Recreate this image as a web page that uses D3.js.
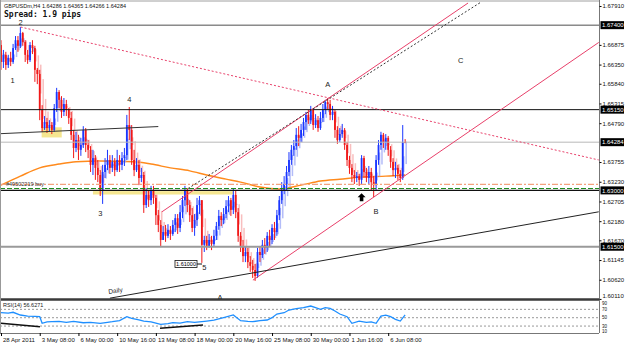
<!DOCTYPE html>
<html>
<head>
<meta charset="utf-8">
<script src="https://cdn.jsdelivr.net/npm/d3@7"></script>
<style>
body { margin: 0; background: #fff; }
svg { display: block; }
</style>
</head>
<body>
<div id="chart"></div>
<script>
// GBPUSDm H4 bars (open = previous close)
var symbol = "GBPUSDm,H4";
var firstOpen = 1.6687;
var closes = [
	1.6642,1.6661,1.6634,1.6653,1.6642,1.6679,1.6700,1.6685,1.6719,1.6695,
	1.6661,1.6647,1.6687,1.6679,1.6621,1.6610,1.6514,1.6466,1.6482,1.6466,
	1.6474,1.6461,1.6519,1.6562,1.6541,1.6509,1.6530,1.6514,1.6493,1.6448,
	1.6413,1.6434,1.6408,1.6421,1.6461,1.6421,1.6408,1.6368,1.6386,1.6360,
	1.6341,1.6301,1.6349,1.6368,1.6381,1.6360,1.6376,1.6354,1.6381,1.6368,
	1.6386,1.6394,1.6474,1.6461,1.6381,1.6354,1.6368,1.6333,1.6341,1.6261,
	1.6288,1.6274,1.6301,1.6280,1.6234,1.6208,1.6168,1.6189,1.6179,1.6195,
	1.6184,1.6208,1.6226,1.6200,1.6242,1.6274,1.6301,1.6261,1.6234,1.6200,
	1.6221,1.6261,1.6274,1.6155,1.6168,1.6152,1.6168,1.6157,1.6179,1.6205,
	1.6232,1.6221,1.6237,1.6258,1.6274,1.6248,1.6288,1.6242,1.6179,1.6152,
	1.6125,1.6136,1.6109,1.6099,1.6088,1.6072,1.6136,1.6128,1.6155,1.6147,
	1.6179,1.6168,1.6200,1.6189,1.6234,1.6274,1.6301,1.6317,1.6349,1.6381,
	1.6408,1.6418,1.6448,1.6440,1.6461,1.6482,1.6501,1.6487,1.6514,1.6474,
	1.6487,1.6466,1.6493,1.6514,1.6535,1.6530,1.6501,1.6509,1.6461,1.6434,
	1.6450,1.6461,1.6421,1.6381,1.6360,1.6341,1.6333,1.6338,1.6328,1.6386,
	1.6349,1.6333,1.6349,1.6322,1.6314,1.6381,1.6421,1.6448,1.6429,1.6440,
	1.6408,1.6376,1.6354,1.6360,1.6344,1.6333,1.64286,1.64284];
var highs = [
	1.6700,1.6674,1.6669,1.6661,1.6669,1.6690,1.6711,1.6711,1.6735,1.6722,
	1.6700,1.6674,1.6695,1.6700,1.6685,1.6626,1.6621,1.6527,1.6498,1.6493,
	1.6487,1.6482,1.6530,1.6573,1.6567,1.6551,1.6546,1.6541,1.6519,1.6509,
	1.6461,1.6456,1.6448,1.6440,1.6471,1.6466,1.6434,1.6418,1.6408,1.6394,
	1.6381,1.6354,1.6368,1.6386,1.6408,1.6394,1.6394,1.6386,1.6408,1.6394,
	1.6402,1.6413,1.6501,1.6522,1.6474,1.6408,1.6386,1.6381,1.6360,1.6349,
	1.6306,1.6301,1.6312,1.6312,1.6288,1.6248,1.6221,1.6205,1.6208,1.6210,
	1.6205,1.6221,1.6237,1.6237,1.6261,1.6285,1.6312,1.6306,1.6274,1.6253,
	1.6237,1.6280,1.6285,1.6274,1.6179,1.6179,1.6184,1.6179,1.6195,1.6216,
	1.6248,1.6242,1.6253,1.6274,1.6285,1.6280,1.6306,1.6301,1.6253,1.6189,
	1.6168,1.6152,1.6147,1.6125,1.6115,1.6104,1.6147,1.6152,1.6168,1.6173,
	1.6189,1.6195,1.6210,1.6216,1.6248,1.6285,1.6322,1.6338,1.6365,1.6402,
	1.6421,1.6434,1.6466,1.6471,1.6477,1.6493,1.6509,1.6514,1.6525,1.6519,
	1.6503,1.6498,1.6509,1.6530,1.6541,1.6546,1.6541,1.6525,1.6514,1.6471,
	1.6466,1.6477,1.6466,1.6429,1.6392,1.6370,1.6354,1.6349,1.6344,1.6394,
	1.6392,1.6360,1.6365,1.6360,1.6338,1.6394,1.6434,1.6456,1.6453,1.6450,
	1.6445,1.6418,1.6386,1.6376,1.6368,1.6354,1.6474,1.64365];
var lows = [
	1.6621,1.6626,1.6621,1.6626,1.6631,1.6637,1.6674,1.6669,1.6679,1.6685,
	1.6642,1.6637,1.6642,1.6663,1.6589,1.6583,1.6487,1.6456,1.6461,1.6453,
	1.6456,1.6450,1.6456,1.6509,1.6519,1.6493,1.6498,1.6498,1.6477,1.6434,
	1.6386,1.6402,1.6381,1.6392,1.6413,1.6402,1.6386,1.6349,1.6341,1.6328,
	1.6322,1.6285,1.6264,1.6333,1.6354,1.6344,1.6349,1.6338,1.6349,1.6349,
	1.6354,1.6365,1.6381,1.6434,1.6368,1.6338,1.6349,1.6314,1.6322,1.6240,
	1.6253,1.6256,1.6261,1.6264,1.6208,1.6189,1.6149,1.6168,1.6163,1.6173,
	1.6168,1.6179,1.6189,1.6184,1.6189,1.6226,1.6258,1.6242,1.6216,1.6189,
	1.6179,1.6205,1.6237,1.6107,1.6136,1.6141,1.6147,1.6141,1.6152,1.6168,
	1.6195,1.6205,1.6210,1.6226,1.6242,1.6232,1.6237,1.6226,1.6163,1.6136,
	1.6109,1.6109,1.6093,1.6083,1.6067,1.6059,1.6067,1.6109,1.6120,1.6131,
	1.6136,1.6152,1.6157,1.6168,1.6179,1.6221,1.6264,1.6290,1.6301,1.6338,
	1.6368,1.6392,1.6408,1.6418,1.6429,1.6445,1.6461,1.6477,1.6477,1.6461,
	1.6466,1.6456,1.6461,1.6482,1.6503,1.6514,1.6487,1.6487,1.6440,1.6424,
	1.6429,1.6440,1.6408,1.6365,1.6344,1.6322,1.6317,1.6322,1.6312,1.6317,
	1.6333,1.6322,1.6317,1.6301,1.6282,1.6301,1.6368,1.6408,1.6413,1.6408,
	1.6392,1.6360,1.6338,1.6333,1.6328,1.6322,1.6328,1.64266];

// moving average (orange), sampled along the curve
var maBars   = [0, 8, 16, 24, 31, 41, 55, 62, 70, 78, 85, 93, 99, 107, 115, 124, 132, 140, 150, 159, 167];
var maValues = [1.6314,1.6338,1.6360,1.6370,1.6376,1.6378,1.6376,1.6370,1.6360,1.6352,1.6341,
	1.6330,1.6322,1.6309,1.6304,1.6314,1.6325,1.6330,1.6336,1.6338,1.6341];

// RSI(14)
var rsiBars   = [0,3,5,8,11,14,16,17,19,21,24,27,30,34,37,41,44,46,49,52,54,57,59,62,66,69,71,74,77,80,
	85,88,92,96,99,102,104,107,110,112,114,117,119,122,125,128,130,132,134,136,138,140,143,145,148,
	151,153,155,157,159,161,163,165,167];
var rsiValues = [62,61,63,56.5,54,53,52.4,36.6,40,40.4,41,39,41,38,39,36.6,39,40.4,43,52.4,48.6,45,42,40,
	34.2,36,38,37,40.4,39,42,44,50,56.5,42.8,41,40.4,43,44.5,50,58.9,62,68.4,72,74,78,74,70,74,72.5,
	66,58.9,52.4,36.6,42,39,40,36.6,54,56,52.4,46,42,56.6271];
var rsiLevels = [70, 50, 30];
var rsiTicks = [90, 70, 50, 30, 10];

// axes
var timeBars = [0, 16, 32, 48, 64, 80, 96, 112, 128, 144, 160];
var timeLabels = ["28 Apr 2011", "3 May 08:00", "6 May 00:00", "10 May 16:00", "13 May 08:00",
	"18 May 00:00", "20 May 16:00", "25 May 08:00", "30 May 00:00", "1 Jun 16:00", "6 Jun 08:00"];
var priceTicks = [1.67910, 1.66875, 1.66350, 1.65840, 1.65315, 1.64790, 1.63755, 1.63230,
	1.62705, 1.62180, 1.61670, 1.61145, 1.60620, 1.60110];

// horizontal levels with price boxes
var levelPrices = [1.67400, 1.65150, 1.64284, 1.63000, 1.61500];
var orderPrice = 1.6316, orderLabel = "#49502219 buy";
var stopPrice = 1.6305;

// trendlines as [bar, price] pairs
var lineFromTwo  = [[8.1, 1.6735], [247, 1.6381]];
var channelUpper = [[66.5, 1.6243], [193, 1.6799]];
var channelDots  = [[77.3, 1.6305], [198, 1.6800]];
var channelLower = [[104.1, 1.6061], [247, 1.6694]];
var dailyLine    = [[45, 1.6013], [247, 1.6243]];
var leftLine     = [[-0.4, 1.6451], [65, 1.6470]];
var rsiLines     = [[[0, 36.6], [16.1, 28.4]], [[65.7, 24.6], [83.5, 32.5]]];

// yellow zones: [bar0, bar1, priceTop, priceBottom]
var zones = [[16.8, 25.1, 1.6468, 1.6441], [38, 96, 1.6298, 1.6289]];

// wave labels
var waveLabels = ["1", "2", "3", "4", "5", "A", "B", "C", "A"];
var waveBars   = [4.8, 8.1, 41, 53, 84, 135, 155, 190, 90.5];
var wavePrices = [1.6594, 1.6747, 1.6239, 1.6543, 1.6095, 1.6583, 1.6245, 1.6647, 1.6015];
var boxText = "1.61000", boxBars = [71.9, 81], boxPrice = 1.6104;
var arrowBar = 149, arrowPrice = 1.6282;
var dailyBar = 44.5, dailyPrice = 1.6024;

// layout
var W = 625, H = 345,
	plotRight = 599, mainBottom = 299, rsiTop = 301, rsiBottom = 333;
var font = "'Liberation Sans', Arial, sans-serif";

var svg = d3.select("#chart").append("svg")
		.attr("width", W)
		.attr("height", H)
		.style("font-family", font);

var xScale = d3.scaleLinear().domain([0, 247]).range([1, 1 + 247 * 2.42]);
var yScale = d3.scaleLinear().domain([1.6807, 1.60108]).range([0, mainBottom]);
var rsiScale = d3.scaleLinear().domain([13.4, 90]).range([rsiBottom, rsiTop]);

var defs = svg.append("defs");
defs.append("clipPath").attr("id", "mainClip").append("rect")
		.attr("x", 0).attr("y", 0).attr("width", plotRight).attr("height", mainBottom);
defs.append("clipPath").attr("id", "rsiClip").append("rect")
		.attr("x", 0).attr("y", rsiTop).attr("width", plotRight).attr("height", rsiBottom - rsiTop);

svg.append("rect").attr("width", W).attr("height", H).attr("fill", "#fff");

var main = svg.append("g").attr("clip-path", "url(#mainClip)");

var bars = closes.map(function(c, i) {
	var o = i ? closes[i - 1] : firstOpen;
	return {i: i, o: o, c: c, h: Math.max(highs[i], o, c), l: Math.min(lows[i], o, c)};
});

// heiken ashi shadows behind the candles
var ha = [];
bars.forEach(function(b, i) {
	var hc = (b.o + b.h + b.l + b.c) / 4;
	var ho = i ? (ha[i - 1].o + ha[i - 1].c) / 2 : (b.o + b.c) / 2;
	ha.push({i: i, o: ho, c: hc});
});

// yellow zones
main.selectAll(".zone").data(zones).enter().append("rect")
		.attr("x", function(d) { return xScale(d[0]); })
		.attr("y", function(d) { return yScale(d[2]); })
		.attr("width", function(d) { return xScale(d[1]) - xScale(d[0]); })
		.attr("height", function(d) { return yScale(d[3]) - yScale(d[2]); })
		.attr("fill", "#f3e27c")
		.attr("opacity", 0.85);

// moving average
main.append("path")
		.datum(maBars.map(function(b, i) { return [b, maValues[i]]; }))
		.attr("d", d3.line()
			.x(function(d) { return xScale(d[0]); })
			.y(function(d) { return yScale(d[1]); })
			.curve(d3.curveMonotoneX))
		.attr("fill", "none")
		.attr("stroke", "#ff8a1c")
		.attr("stroke-width", 1.5);

main.selectAll(".ha").data(ha).enter().append("rect")
		.attr("x", function(d) { return xScale(d.i) + 0.3; })
		.attr("y", function(d) { return yScale(Math.max(d.o, d.c)); })
		.attr("width", 1.5)
		.attr("height", function(d) { return Math.max(1, Math.abs(yScale(d.o) - yScale(d.c))); })
		.attr("fill", function(d) { return d.c >= d.o ? "#9aa6f5" : "#f6a8a8"; })
		.attr("opacity", 0.75);

// candles
main.selectAll(".wick").data(bars).enter().append("line")
		.attr("x1", function(d) { return xScale(d.i); })
		.attr("x2", function(d) { return xScale(d.i); })
		.attr("y1", function(d) { return yScale(d.h); })
		.attr("y2", function(d) { return yScale(d.l); })
		.attr("stroke", function(d) { return d.c >= d.o ? "#1a36ff" : "#f01818"; })
		.attr("stroke-width", 1);

main.selectAll(".body").data(bars).enter().append("rect")
		.attr("x", function(d) { return xScale(d.i) - 0.9; })
		.attr("y", function(d) { return yScale(Math.max(d.o, d.c)); })
		.attr("width", 1.8)
		.attr("height", function(d) { return Math.max(1, Math.abs(yScale(d.o) - yScale(d.c))); })
		.attr("fill", function(d) { return d.c >= d.o ? "#1a36ff" : "#f01818"; });

// horizontal levels
var levelStyle = [
	{stroke: "#505050", width: 1},
	{stroke: "#111", width: 1},
	{stroke: "#b8b8b8", width: 1},
	{stroke: "#111", width: 1.3},
	{stroke: "#9a9a9a", width: 2}
];
main.selectAll(".level").data(levelPrices).enter().append("line")
		.attr("x1", 0).attr("x2", plotRight)
		.attr("y1", function(d) { return yScale(d); })
		.attr("y2", function(d) { return yScale(d); })
		.attr("stroke", function(d, i) { return levelStyle[i].stroke; })
		.attr("stroke-width", function(d, i) { return levelStyle[i].width; });

main.append("line")
		.attr("x1", 0).attr("x2", plotRight)
		.attr("y1", yScale(orderPrice)).attr("y2", yScale(orderPrice))
		.attr("stroke", "#f4a27e").attr("stroke-width", 1.2)
		.attr("stroke-dasharray", "6,2,2,2");
main.append("line")
		.attr("x1", 0).attr("x2", plotRight)
		.attr("y1", yScale(stopPrice)).attr("y2", yScale(stopPrice))
		.attr("stroke", "#1d8a1d").attr("stroke-width", 1.2)
		.attr("stroke-dasharray", "5,2");
main.append("text")
		.attr("x", 6).attr("y", yScale(orderPrice) + 2)
		.attr("font-size", 5.5)
		.attr("fill", "#333")
		.text(orderLabel);

// trendlines
function segment(pts, color, dash, width) {
	main.append("line")
			.attr("x1", xScale(pts[0][0])).attr("y1", yScale(pts[0][1]))
			.attr("x2", xScale(pts[1][0])).attr("y2", yScale(pts[1][1]))
			.attr("stroke", color)
			.attr("stroke-width", width || 1)
			.attr("stroke-dasharray", dash);
}
segment(lineFromTwo, "#e8406a", "2,2");
segment(channelUpper, "#e8406a", null);
segment(channelDots, "#333", "2,2");
segment(channelLower, "#e8406a", null);
segment(dailyLine, "#222", null);
segment(leftLine, "#333", null);

// wave labels
main.selectAll(".wave").data(waveLabels).enter().append("text")
		.attr("x", function(d, i) { return xScale(waveBars[i]); })
		.attr("y", function(d, i) { return yScale(wavePrices[i]) + 2.7; })
		.attr("text-anchor", "middle")
		.attr("font-size", 7.5)
		.attr("fill", "#222")
		.text(function(d) { return d; });

main.append("text")
		.attr("transform", "translate(" + xScale(dailyBar) + "," + yScale(dailyPrice) + ") rotate(-9)")
		.attr("font-size", 6.5)
		.attr("fill", "#222")
		.text("Daily");

var by = yScale(boxPrice);
main.append("rect")
		.attr("x", xScale(boxBars[0])).attr("y", by - 3.5)
		.attr("width", xScale(boxBars[1]) - xScale(boxBars[0])).attr("height", 7)
		.attr("fill", "#fff").attr("stroke", "#111").attr("stroke-width", 0.8);
main.append("text")
		.attr("x", (xScale(boxBars[0]) + xScale(boxBars[1])) / 2).attr("y", by + 2)
		.attr("text-anchor", "middle")
		.attr("font-size", 5.5)
		.text(boxText);
main.append("line")
		.attr("x1", xScale(boxBars[1])).attr("x2", xScale(boxBars[1]) + 5)
		.attr("y1", by).attr("y2", by)
		.attr("stroke", "#111");

var ax = xScale(arrowBar), ay = yScale(arrowPrice);
main.append("path")
		.attr("d", "M" + ax + "," + (ay - 4) + " l4,4 h-2.2 v4 h-3.6 v-4 h-2.2 z")
		.attr("fill", "#000");

// rsi panel
var rsiG = svg.append("g").attr("clip-path", "url(#rsiClip)");
rsiG.selectAll(".lvl").data(rsiLevels).enter().append("line")
		.attr("x1", 0).attr("x2", plotRight)
		.attr("y1", function(d) { return rsiScale(d); })
		.attr("y2", function(d) { return rsiScale(d); })
		.attr("stroke", "#999")
		.attr("stroke-dasharray", "2,2");
rsiG.append("path")
		.datum(rsiBars.map(function(b, i) { return [b, rsiValues[i]]; }))
		.attr("d", d3.line()
			.x(function(d) { return xScale(d[0]); })
			.y(function(d) { return rsiScale(d[1]); }))
		.attr("fill", "none")
		.attr("stroke", "#1e8fff")
		.attr("stroke-width", 1.3);
rsiLines.forEach(function(pts) {
	rsiG.append("line")
			.attr("x1", xScale(pts[0][0])).attr("y1", rsiScale(pts[0][1]))
			.attr("x2", xScale(pts[1][0])).attr("y2", rsiScale(pts[1][1]))
			.attr("stroke", "#111").attr("stroke-width", 1.4);
});
svg.append("text")
		.attr("x", 3).attr("y", rsiTop + 5.5)
		.attr("font-size", 5.5)
		.attr("fill", "#222")
		.text("RSI(14) " + rsiValues[rsiValues.length - 1]);

// frames
svg.append("line").attr("x1", 0).attr("x2", plotRight).attr("y1", 1).attr("y2", 1)
		.attr("stroke", "#a0a0a0");
svg.append("line").attr("x1", 0).attr("x2", plotRight).attr("y1", mainBottom + 0.5).attr("y2", mainBottom + 0.5)
		.attr("stroke", "#3a3a3a").attr("stroke-width", 2.5);
svg.append("line").attr("x1", 0).attr("x2", plotRight).attr("y1", rsiBottom + 0.5).attr("y2", rsiBottom + 0.5)
		.attr("stroke", "#777");
svg.append("line").attr("x1", 0.5).attr("x2", 0.5).attr("y1", 0).attr("y2", rsiBottom)
		.attr("stroke", "#999");
svg.append("line").attr("x1", plotRight + 0.5).attr("x2", plotRight + 0.5).attr("y1", 0).attr("y2", rsiBottom)
		.attr("stroke", "#777");

// price axis
var yAxis = d3.axisRight(yScale)
		.tickValues(priceTicks)
		.tickFormat(d3.format(".5f"))
		.tickSize(2);
var yAxisG = svg.append("g")
		.attr("transform", "translate(" + (plotRight + 0.5) + ",0)")
		.call(yAxis);
yAxisG.select(".domain").remove();
yAxisG.selectAll("text")
		.attr("font-size", 6)
		.attr("font-family", font)
		.attr("fill", "#111")
		.attr("x", 3)
		.attr("y", function(d) { return yScale(d) > 294 ? -3 : 0; });

svg.selectAll(".lvlbox").data(levelPrices).enter().append("rect")
		.attr("x", plotRight + 1.5)
		.attr("y", function(d) { return yScale(d) - 4; })
		.attr("width", 23.5)
		.attr("height", 8)
		.attr("fill", "#000");
svg.selectAll(".lvltext").data(levelPrices).enter().append("text")
		.attr("x", plotRight + 3)
		.attr("y", function(d) { return yScale(d) + 2.2; })
		.attr("font-size", 6)
		.attr("fill", "#fff")
		.text(function(d) { return d.toFixed(5); });

// rsi axis
svg.selectAll(".rsitick").data(rsiTicks).enter().append("text")
		.attr("x", plotRight + 3)
		.attr("y", function(d) { return Math.min(Math.max(rsiScale(d), 303), 331.5) + 1.6; })
		.attr("font-size", 4.5)
		.attr("fill", "#111")
		.text(function(d) { return d; });

// time axis
var xAxis = d3.axisBottom(xScale)
		.tickValues(timeBars)
		.tickFormat(function(d, i) { return timeLabels[i]; })
		.tickSize(3);
var xAxisG = svg.append("g")
		.attr("transform", "translate(0," + rsiBottom + ")")
		.call(xAxis);
xAxisG.select(".domain").remove();
xAxisG.selectAll("text")
		.attr("font-size", 6)
		.attr("font-family", font)
		.attr("fill", "#111")
		.attr("text-anchor", "start")
		.attr("x", 1.5)
		.attr("dy", "0.5em");

// header
var last = bars[bars.length - 1];
svg.append("text")
		.attr("x", 4).attr("y", 7.5)
		.attr("font-size", 5.5)
		.attr("fill", "#111")
		.text(symbol + "  " + [last.o, last.h, last.l, last.c].map(function(v) { return v.toFixed(5); }).join(" "));
svg.append("text")
		.attr("x", 4).attr("y", 17)
		.attr("font-family", "'DejaVu Sans Mono', monospace")
		.attr("font-weight", "bold")
		.attr("font-size", 8)
		.attr("fill", "#111")
		.text("Spread: 1.9 pips");
</script>
</body>
</html>
